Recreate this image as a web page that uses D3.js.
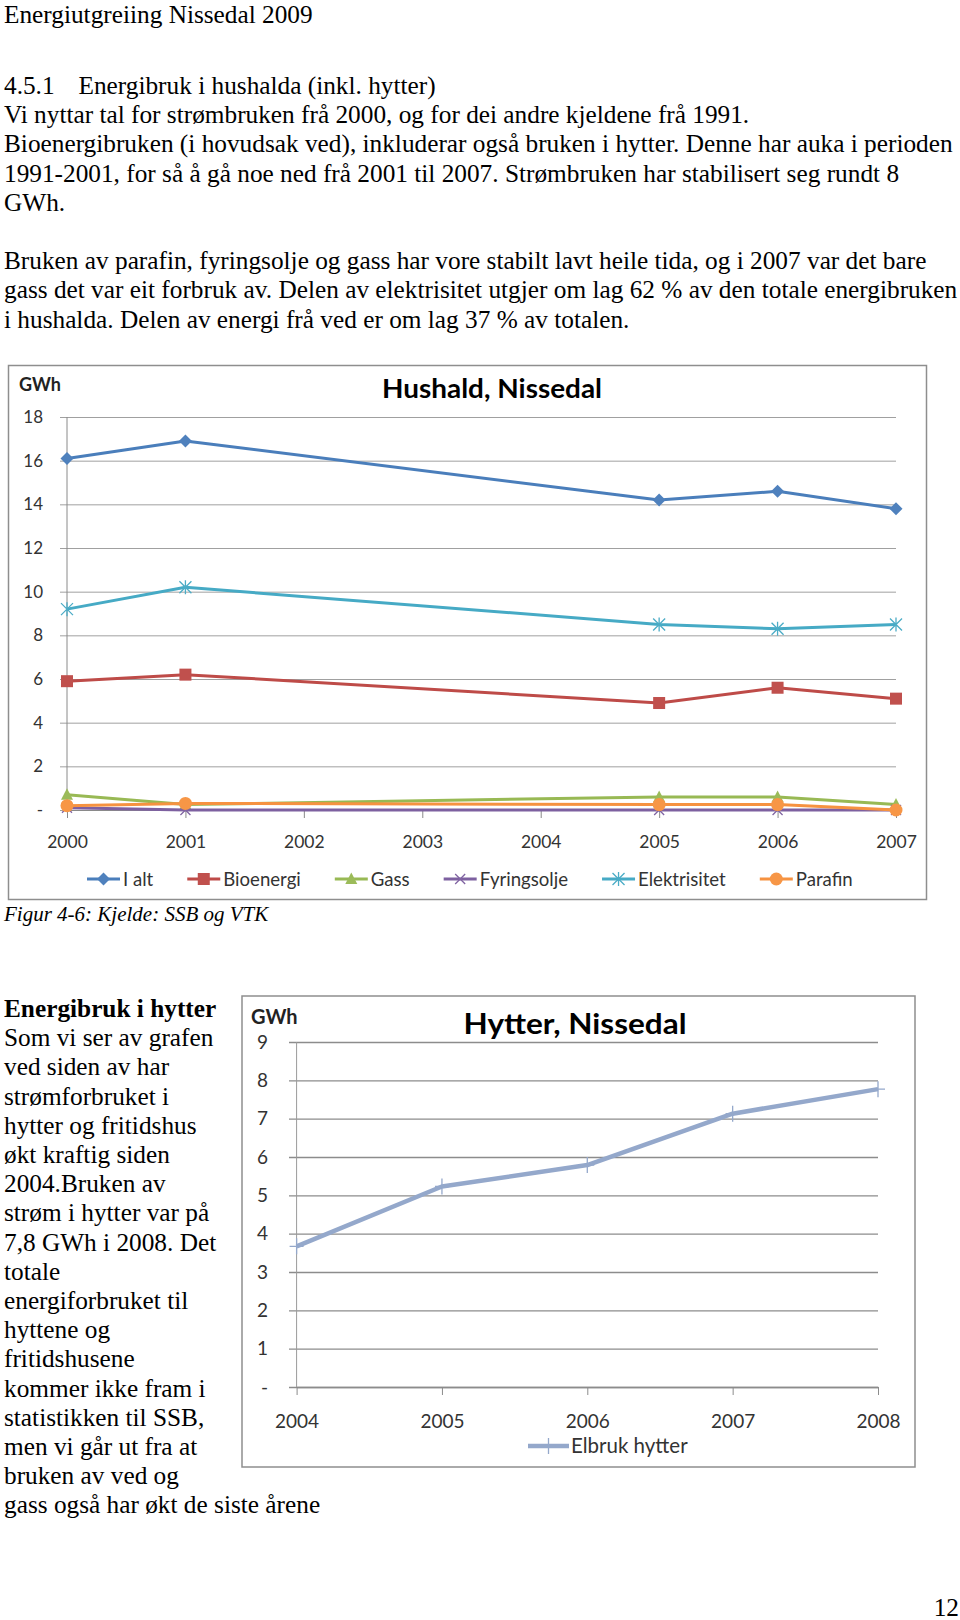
<!DOCTYPE html>
<html><head><meta charset="utf-8">
<script src="https://cdn.jsdelivr.net/npm/d3@7"></script>
<style>body{margin:0;background:#fff}</style>
</head><body>
<svg id="page" width="960" height="1620"></svg>
<script>
// ---------- page text ----------
const headerLine = "Energiutgreiing Nissedal 2009";
const sectionNumber = "4.5.1";
const sectionTitle = "Energibruk i hushalda (inkl. hytter)";
const introLines = [
  "Vi nyttar tal for strømbruken frå 2000, og for dei andre kjeldene frå 1991.",
  "Bioenergibruken (i hovudsak ved), inkluderar også bruken i hytter. Denne har auka i perioden",
  "1991-2001, for så å gå noe ned frå 2001 til 2007. Strømbruken har stabilisert seg rundt 8",
  "GWh.",
  "",
  "Bruken av parafin, fyringsolje og gass har vore stabilt lavt heile tida, og i 2007 var det bare",
  "gass det var eit forbruk av. Delen av elektrisitet utgjer om lag 62 % av den totale energibruken",
  "i hushalda. Delen av energi frå ved er om lag 37 % av totalen."
];
const caption = "Figur 4-6: Kjelde: SSB og VTK";
const sideHeading = "Energibruk i hytter";
const sideLines = [
  "Som vi ser av grafen", "ved siden av har", "strømforbruket i", "hytter og fritidshus",
  "økt kraftig siden", "2004.Bruken av", "strøm i hytter var på", "7,8 GWh i 2008. Det",
  "totale", "energiforbruket til", "hyttene og", "fritidshusene", "kommer ikke fram i",
  "statistikken til SSB,", "men vi går ut fra at", "bruken av ved og", "gass også har økt de siste årene"
];
const pageNumber = "12";

// ---------- chart 1 data ----------
const title1 = "Hushald, Nissedal";
const unitLabel = "GWh";
const years1 = ["2000","2001","2002","2003","2004","2005","2006","2007"];
const seriesNames1 = ["I alt","Bioenergi","Gass","Fyringsolje","Elektrisitet","Parafin"];
const iAlt         = [16.1, 16.9, null, null, null, 14.2, 14.6, 13.8];
const bioenergi    = [5.9,  6.2,  null, null, null, 4.9,  5.6,  5.1];
const gass         = [0.7,  0.25, null, null, null, 0.6,  0.6,  0.25];
const fyringsolje  = [0.1,  0,    null, null, null, 0,    0,    0];
const elektrisitet = [9.2,  10.2, null, null, null, 8.5,  8.3,  8.5];
const parafin      = [0.2,  0.3,  null, null, null, 0.25, 0.25, 0];
const yTicks1 = [0,2,4,6,8,10,12,14,16,18];

// ---------- chart 2 data ----------
const title2 = "Hytter, Nissedal";
const years2 = ["2004","2005","2006","2007","2008"];
const seriesName2 = "Elbruk hytter";
const elbrukHytter = [3.67, 5.23, 5.79, 7.13, 7.77];
const yTicks2 = [0,1,2,3,4,5,6,7,8,9];

// ---------- styles ----------
const serif = "'Liberation Serif','Times New Roman',serif";
const sans = "Lato,'Open Sans',sans-serif";
const bodySize = 25.3;
const lineColors1 = ["#4A7EBB","#BE4B48","#98B954","#7D60A0","#46AAC5","#F69240"];
const markColors1 = ["#4F81BD","#C0504D","#9BBB59","#8064A2","#4BACC6","#F79646"];
const markTypes1 = ["diamond","square","triangle","x","asterisk","circle"];
const color2 = "#94A8CB";

const svg = d3.select("#page");
svg.append("rect").attr("width",960).attr("height",1620).attr("fill","#fff");

function serifText(x, y, txt, opts={}) {
  return svg.append("text").attr("x",x).attr("y",y)
    .style("font-family",serif).style("font-size",(opts.size||bodySize)+"px")
    .style("font-weight",opts.bold?"bold":"normal").style("font-style",opts.italic?"italic":"normal")
    .attr("text-anchor",opts.anchor||"start").attr("fill","#000").text(txt);
}

const lh = 29.2;
serifText(4, 23, headerLine);
serifText(4, 94, sectionNumber);
serifText(78.5, 94, sectionTitle);
introLines.forEach((t,i)=>{ if(t) serifText(4, 94+(i+1)*lh, t); });
serifText(4, 921, caption, {size:21, italic:true});
serifText(4, 1017, sideHeading, {bold:true});
sideLines.forEach((t,i)=> serifText(4, 1017+(i+1)*lh, t));
serifText(959, 1616, pageNumber, {anchor:"end"});

// ---------- markers ----------
function drawMarker(g, type, x, y, color) {
  const m = g.append("g").attr("transform",`translate(${x},${y})`);
  if (type==="diamond") m.append("path").attr("d","M0,-6.5L6.5,0L0,6.5L-6.5,0Z").attr("fill",color);
  else if (type==="square") m.append("rect").attr("x",-6).attr("y",-6).attr("width",12).attr("height",12).attr("fill",color);
  else if (type==="triangle") m.append("path").attr("d","M0,-6.5L6,5L-6,5Z").attr("fill",color);
  else if (type==="circle") m.append("circle").attr("r",6.5).attr("fill",color);
  else if (type==="x") m.append("path").attr("d","M-5,-5L5,5M-5,5L5,-5").attr("stroke",color).attr("stroke-width",1.3).attr("fill","none");
  else if (type==="asterisk") m.append("path").attr("d","M-6,-6L6,6M-6,6L6,-6M0,-7V7").attr("stroke",color).attr("stroke-width",1.3).attr("fill","none");
  else if (type==="plus") m.append("path").attr("d","M-7,0H7M0,-8V8").attr("stroke",color).attr("stroke-width",1.3).attr("fill","none");
}
const fmtDash = d => d===0 ? "-" : String(d);

// ================= CHART 1 =================
svg.append("rect").attr("x",8.5).attr("y",365.5).attr("width",918).attr("height",534)
  .attr("fill","none").attr("stroke","#8E8E8E").attr("stroke-width",1.5);

const x1 = d3.scalePoint().domain(years1).range([67, 896]);
const y1 = d3.scaleLinear().domain([0,18]).range([810, 417]);
const c1 = svg.append("g");

c1.append("text").attr("x",492).attr("y",398).attr("text-anchor","middle")
  .style("font-family",sans).style("font-weight","bold").style("font-size","27px")
  .attr("textLength",220).attr("lengthAdjust","spacingAndGlyphs").attr("fill","#000").text(title1);
c1.append("text").attr("x",19).attr("y",391)
  .style("font-family",sans).style("font-weight","bold").style("font-size","18px").attr("fill","#222").text(unitLabel);

const yAx1 = c1.append("g").attr("transform","translate(60,0)")
  .call(d3.axisLeft(y1).tickValues(yTicks1).tickFormat(fmtDash).tickSize(-(896-60)).tickPadding(17));
yAx1.select(".domain").remove();
yAx1.selectAll(".tick line").attr("stroke","#A0A0A0").attr("stroke-width",1);
yAx1.selectAll(".tick text").style("font-family",sans).style("font-size","17px").attr("fill","#333");

c1.append("line").attr("x1",x1(years1[0])).attr("x2",x1(years1[0])).attr("y1",y1(18)).attr("y2",y1(0))
  .attr("stroke","#8A8A8A").attr("stroke-width",1);
const xAx1 = c1.append("g").attr("transform",`translate(0,${y1(0)})`)
  .call(d3.axisBottom(x1).tickSize(8).tickSizeOuter(0).tickPadding(18));
xAx1.select(".domain").attr("stroke","#8A8A8A");
xAx1.selectAll(".tick line").attr("stroke","#8A8A8A");
xAx1.selectAll(".tick text").style("font-family",sans).style("font-size","17.5px").attr("fill","#333");

const seriesData1 = [iAlt, bioenergi, gass, fyringsolje, elektrisitet, parafin];
const line1 = d3.line().x(d=>x1(d.year)).y(d=>y1(d.v));
seriesData1.forEach((vals, si)=>{
  const pts = years1.map((year,i)=>({year, v:vals[i]})).filter(d=>d.v!=null);
  const g = c1.append("g");
  g.append("path").attr("d", line1(pts)).attr("fill","none")
    .attr("stroke", lineColors1[si]).attr("stroke-width",3).attr("stroke-linejoin","round");
  pts.forEach(p=>drawMarker(g, markTypes1[si], x1(p.year), y1(p.v), markColors1[si]));
});

// legend 1
let lx = 87; const ly = 879;
seriesNames1.forEach((name, si)=>{
  const g = c1.append("g");
  g.append("line").attr("x1",lx).attr("x2",lx+33).attr("y1",ly).attr("y2",ly)
    .attr("stroke",lineColors1[si]).attr("stroke-width",3);
  drawMarker(g, markTypes1[si], lx+16.5, ly, markColors1[si]);
  const t = g.append("text").attr("x",lx+36).attr("y",ly+6.5)
    .style("font-family",sans).style("font-size","18.6px").attr("fill","#333").text(name);
  lx += 36 + t.node().getComputedTextLength() + 34;
});

// ================= CHART 2 =================
svg.append("rect").attr("x",242).attr("y",996).attr("width",673).attr("height",471)
  .attr("fill","none").attr("stroke","#8E8E8E").attr("stroke-width",1.5);

const x2 = d3.scalePoint().domain(years2).range([296.6, 878]);
const y2 = d3.scaleLinear().domain([0,9]).range([1387, 1042]);
const c2 = svg.append("g");

c2.append("text").attr("x",575).attr("y",1034).attr("text-anchor","middle")
  .style("font-family",sans).style("font-weight","bold").style("font-size","29px")
  .attr("textLength",223).attr("lengthAdjust","spacingAndGlyphs").attr("fill","#000").text(title2);
c2.append("text").attr("x",251).attr("y",1024)
  .style("font-family",sans).style("font-weight","bold").style("font-size","20px").attr("fill","#222").text(unitLabel);

const yAx2 = c2.append("g").attr("transform","translate(289,0)")
  .call(d3.axisLeft(y2).tickValues(yTicks2).tickFormat(fmtDash).tickSize(-(878-289)).tickPadding(21));
yAx2.select(".domain").remove();
yAx2.selectAll(".tick line").attr("stroke","#8C8C8C").attr("stroke-width",1.4);
yAx2.selectAll(".tick text").style("font-family",sans).style("font-size","19px").attr("fill","#333");

c2.append("line").attr("x1",x2(years2[0])).attr("x2",x2(years2[0])).attr("y1",y2(9)).attr("y2",y2(0))
  .attr("stroke","#9A9A9A").attr("stroke-width",1);
const xAx2 = c2.append("g").attr("transform",`translate(0,${y2(0)})`)
  .call(d3.axisBottom(x2).tickSize(8).tickSizeOuter(0).tickPadding(20));
xAx2.select(".domain").attr("stroke","#8C8C8C").attr("stroke-width",1.4);
xAx2.selectAll(".tick line").attr("stroke","#8C8C8C");
xAx2.selectAll(".tick text").style("font-family",sans).style("font-size","19px").attr("fill","#333");

const pts2 = years2.map((year,i)=>({year, v:elbrukHytter[i]}));
const line2 = d3.line().x(d=>x2(d.year)).y(d=>y2(d.v));
c2.append("path").attr("d", line2(pts2)).attr("fill","none").attr("stroke",color2)
  .attr("stroke-width",4.5).attr("stroke-linejoin","round");
pts2.forEach(p=>drawMarker(c2, "plus", x2(p.year), y2(p.v), color2));

// legend 2
const lg2 = c2.append("g");
const t2 = lg2.append("text").attr("y",1453)
  .style("font-family",sans).style("font-size","20.5px").attr("fill","#333").text(seriesName2);
const lx2 = 528;
t2.attr("x", lx2 + 43);
lg2.append("line").attr("x1",lx2).attr("x2",lx2+41).attr("y1",1446).attr("y2",1446)
  .attr("stroke",color2).attr("stroke-width",4.5);
drawMarker(lg2, "plus", lx2+20.5, 1446, color2);
</script>
</body></html>
